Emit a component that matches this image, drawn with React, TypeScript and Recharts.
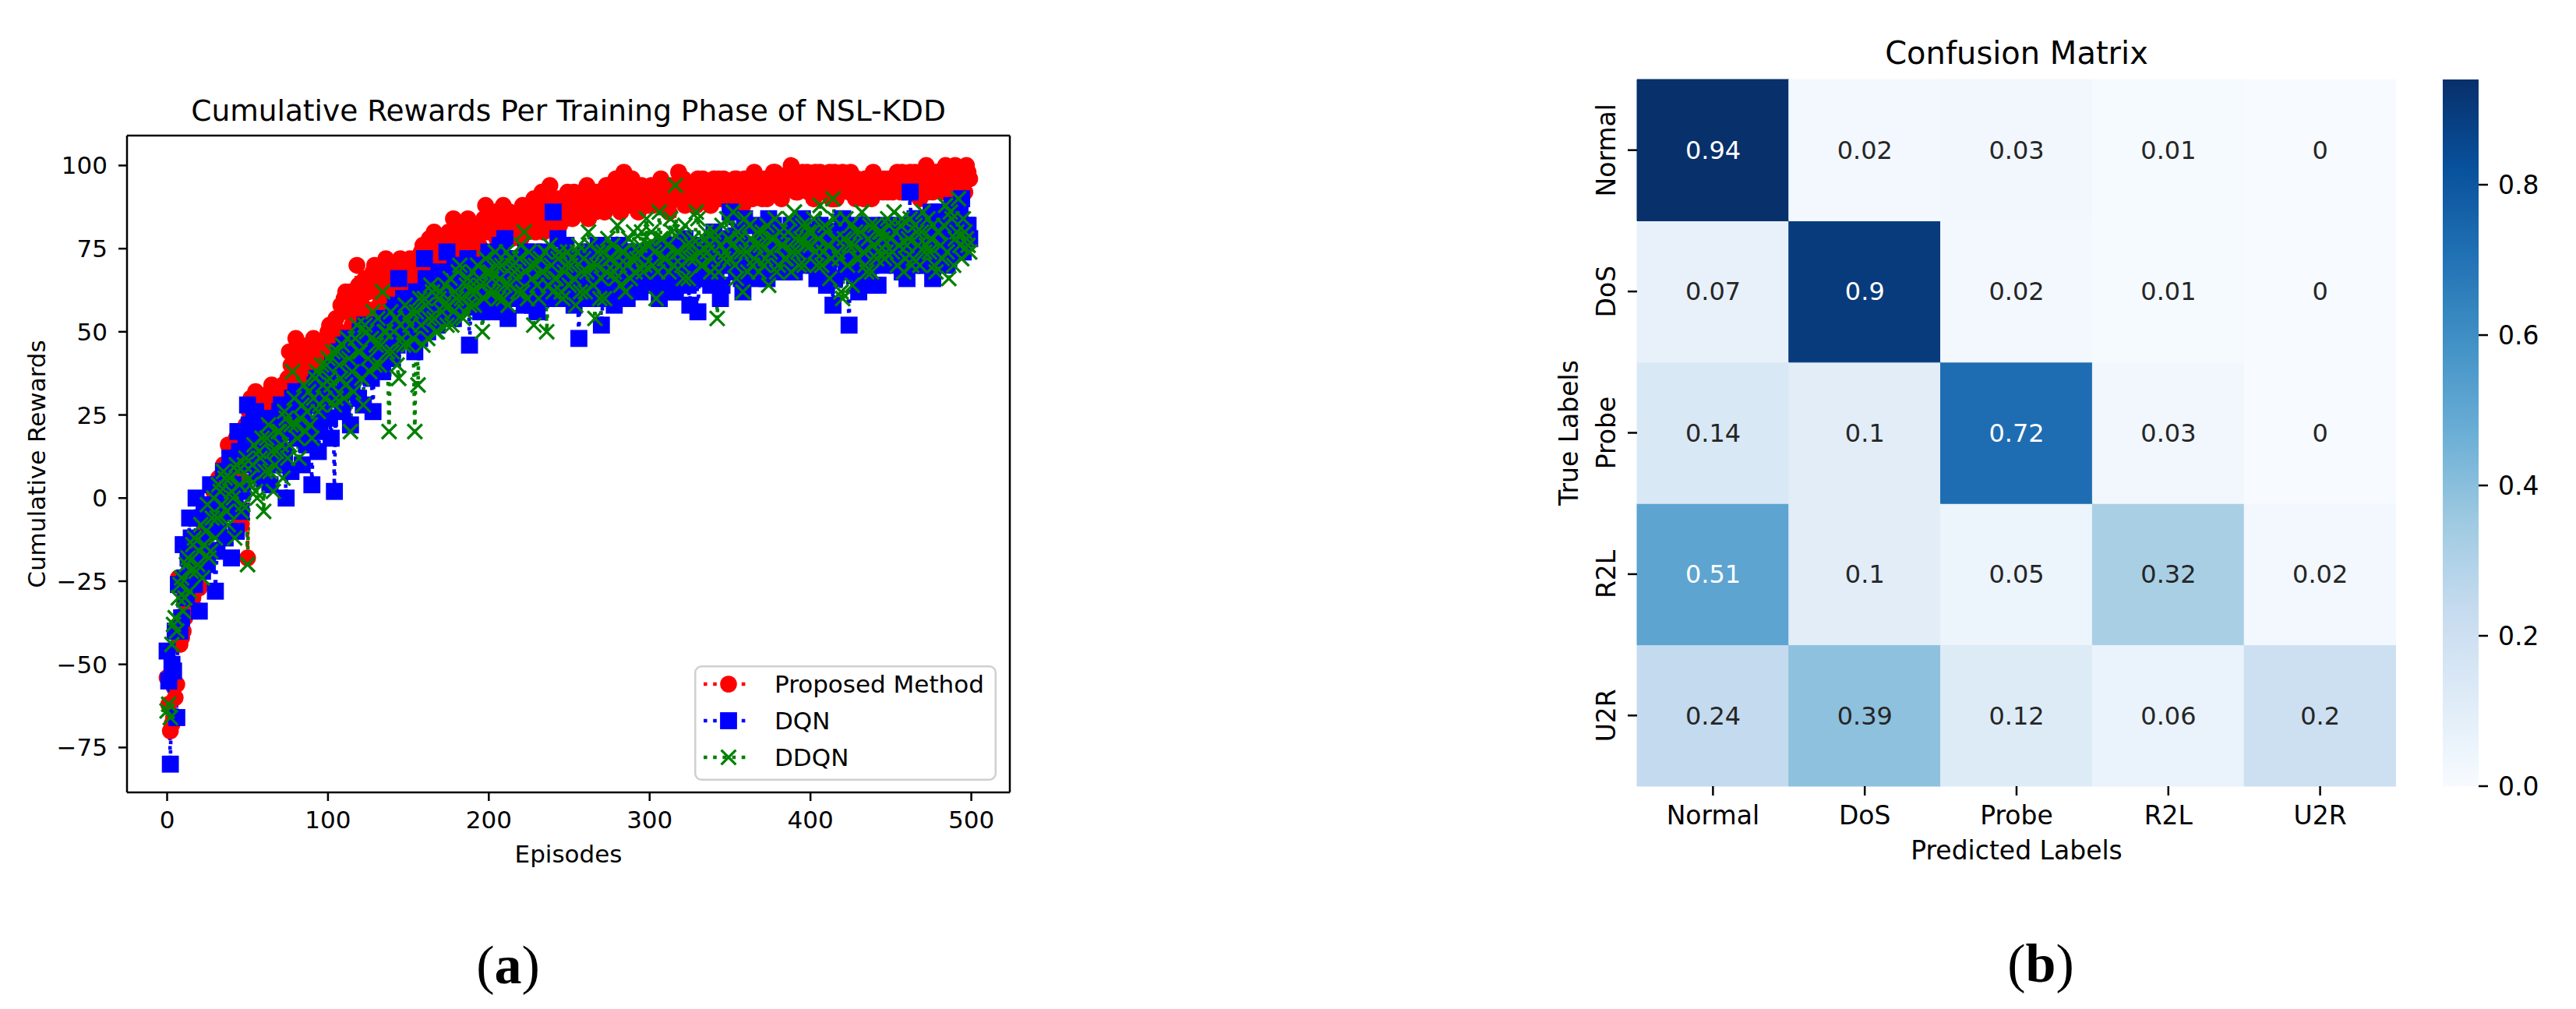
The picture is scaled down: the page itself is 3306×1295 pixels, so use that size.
import React from "react";
import { LineChart, Line, XAxis, YAxis, Legend, ReferenceLine, BarChart, Bar, Cell, LabelList } from "recharts";

// (a) cumulative rewards, even episodes (0, 2, ... 498)
const proposedEven = [
  -54, -70, -66, -56, -44, -40, -28, -24, -30, -20, -27, -12, -16, -4, 4, 0, 6, 2, 8, 16, 12, 14, 6, -8, 10,
  -18, 30, 22, 28, 18, 30, 26, 32, 24, 28, 30, 34, 26, 44, 38, 48, 40, 36, 44, 40, 46, 38, 42, 36, 44,
  50, 48, 52, 44, 58, 60, 56, 62, 54, 70, 60, 64, 56, 66, 68, 62, 58, 70, 72, 66, 64, 60, 68, 62, 70,
  70, 66, 72, 64, 74, 68, 72, 76, 80, 70, 74, 78, 70, 76, 84, 78, 74, 80, 76, 72, 78, 82, 76, 80, 88,
  84, 80, 86, 82, 76, 84, 80, 78, 84, 82, 78, 86, 80, 84, 90, 82, 86, 80, 88, 94, 84, 86, 82, 88, 84,
  86, 84, 90, 86, 92, 88, 84, 90, 86, 88, 92, 86, 94, 90, 88, 92, 86, 98, 92, 88, 94, 90, 88, 92, 90,
  92, 88, 94, 90, 88, 92, 86, 90, 94, 98, 92, 88, 94, 90, 92, 96, 90, 94, 92, 88, 96, 94, 90, 96, 92,
  94, 90, 96, 92, 88, 94, 96, 90, 92, 94, 90, 96, 92, 94, 98, 94, 90, 96, 94, 100, 98, 92, 96, 94, 98,
  96, 90, 94, 98, 92, 96, 98, 94, 90, 96, 98, 94, 92, 96, 90, 94, 92, 96, 94, 90, 96, 92, 94, 96, 92,
  96, 94, 98, 92, 96, 94, 98, 92, 96, 90, 94, 100, 96, 92, 98, 94, 96, 100, 92, 98, 100, 94, 96, 92, 98,
];
// odd episodes (1, 3, ... 499)
const proposedOdd = [
  -62, -68, -60, -24, -42, -36, -32, -18, -26, -14, -22, -8, -2, -10, 2, -6, 4, 10, 6, 14, 8, 18, 4, 12, 22,
  26, 20, 32, 24, 28, 20, 30, 34, 26, 22, 32, 28, 36, 40, 30, 42, 46, 38, 34, 42, 48, 40, 44, 38, 46,
  52, 46, 54, 50, 56, 62, 58, 52, 60, 64, 58, 66, 62, 54, 70, 64, 60, 68, 62, 70, 66, 64, 72, 66, 68,
  72, 68, 64, 70, 76, 72, 78, 74, 70, 78, 76, 72, 80, 74, 78, 82, 76, 80, 84, 78, 74, 82, 80, 84, 80,
  86, 82, 78, 84, 88, 80, 86, 82, 84, 80, 88, 82, 86, 84, 80, 88, 92, 84, 90, 86, 82, 90, 88, 84, 92,
  88, 92, 86, 90, 88, 94, 90, 86, 92, 88, 90, 94, 88, 92, 96, 90, 94, 88, 92, 96, 90, 86, 94, 92, 88,
  94, 90, 92, 96, 90, 88, 94, 92, 90, 94, 96, 92, 90, 94, 88, 92, 96, 94, 90, 92, 94, 96, 92, 90, 94,
  92, 96, 94, 90, 96, 92, 94, 98, 92, 96, 94, 90, 96, 98, 94, 92, 96, 94, 98, 96, 92, 94, 98, 96, 92,
  94, 98, 96, 92, 94, 96, 90, 98, 94, 92, 96, 94, 98, 92, 96, 94, 90, 96, 92, 98, 94, 96, 92, 94, 96,
  92, 96, 94, 98, 94, 96, 92, 98, 94, 96, 98, 92, 96, 94, 98, 96, 92, 98, 96, 94, 98, 92, 96, 100, 96,
];

const dqnEven = [
  -46, -80, -52, -66, -40, -14, -30, -6, -20, 0, -34, -22, -16, -10, -4, -28, -8, 2, -12, 6, -18, 0, 20, -4, 10,
  28, 14, 24, 8, 20, 12, 18, 4, 22, 16, 26, 10, 0, 20, 30, 32, 24, 10, 28, 20, 4, 34, 14, 26, 30,
  36, 18, 2, 40, 30, 46, 36, 22, 44, 38, 50, 28, 42, 48, 26, 44, 52, 38, 46, 54, 42, 58, 66, 50, 56,
  48, 60, 44, 54, 62, 72, 50, 58, 64, 52, 60, 56, 74, 62, 54, 66, 60, 58, 68, 46, 62, 64, 58, 70, 66,
  74, 60, 56, 70, 64, 78, 54, 68, 62, 72, 66, 58, 70, 62, 74, 56, 68, 64, 60, 72, 86, 66, 70, 62, 76,
  68, 62, 72, 48, 66, 74, 60, 70, 64, 76, 52, 68, 72, 62, 58, 70, 66, 74, 60, 68, 64, 72, 62, 70, 66,
  72, 64, 68, 60, 76, 70, 66, 74, 62, 70, 68, 78, 64, 72, 66, 56, 70, 74, 68, 64, 80, 72, 60, 76, 70,
  86, 74, 68, 80, 62, 76, 70, 82, 66, 74, 78, 70, 84, 72, 68, 76, 80, 70, 74, 82, 68, 76, 72, 80, 74,
  78, 70, 66, 82, 74, 64, 80, 58, 76, 72, 84, 70, 52, 78, 74, 62, 80, 76, 68, 82, 72, 64, 78, 74, 80,
  76, 82, 70, 74, 78, 66, 92, 80, 72, 84, 76, 70, 82, 66, 78, 86, 74, 80, 72, 88, 76, 84, 90, 78, 82,
];
const dqnOdd = [
  -55, -50, -40, -26, -36, -24, -18, -12, -26, -6, -14, -2, -20, 4, -8, -16, 0, 8, -4, 12, 4, -10, 14, 2, 18,
  22, 16, 26, 12, 6, 20, 14, 24, 10, 18, 28, 14, 22, 8, 26, 18, 32, 24, 16, 30, 22, 36, 20, 28, 34,
  24, 40, 32, 44, 26, 38, 48, 34, 42, 30, 46, 52, 40, 36, 50, 44, 38, 54, 48, 42, 56, 46, 52, 60, 50,
  56, 52, 62, 48, 58, 66, 54, 62, 56, 68, 58, 64, 60, 54, 70, 62, 58, 66, 72, 60, 64, 68, 56, 62, 70,
  66, 72, 62, 76, 58, 66, 72, 64, 70, 60, 68, 74, 64, 58, 70, 66, 62, 74, 68, 64, 70, 78, 60, 72, 66,
  72, 58, 66, 70, 62, 68, 74, 64, 70, 66, 60, 74, 66, 70, 64, 76, 68, 62, 72, 66, 74, 68, 64, 72, 70,
  66, 74, 70, 64, 72, 68, 76, 62, 74, 70, 66, 72, 58, 76, 70, 68, 74, 66, 72, 78, 68, 74, 64, 72, 78,
  70, 78, 74, 66, 84, 72, 68, 76, 70, 80, 72, 66, 76, 82, 70, 74, 78, 72, 68, 80, 74, 70, 84, 76, 72,
  74, 80, 72, 68, 78, 70, 76, 66, 72, 80, 74, 68, 76, 70, 82, 66, 74, 78, 72, 64, 80, 76, 70, 82, 74,
  80, 72, 78, 68, 82, 76, 70, 84, 74, 78, 70, 80, 86, 74, 72, 82, 78, 70, 84, 76, 80, 86, 74, 82, 78,
];

const ddqnEven = [
  -64, -66, -38, -40, -26, -34, -20, -28, -14, -22, -16, -24, -10, -18, -6, -12, 4, -2, 6, -8, 2, -12, 8, -4, 10,
  -20, 4, 16, 0, 12, -4, 18, 8, 2, 14, 20, 6, 24, 16, 38, 22, 12, 28, 20, 32, 18, 36, 26, 40, 30,
  42, 34, 28, 44, 36, 30, 48, 20, 32, 52, 44, 28, 50, 38, 56, 46, 40, 62, 50, 20, 44, 54, 36, 48, 58,
  46, 56, 20, 34, 52, 60, 48, 64, 54, 50, 62, 58, 52, 66, 56, 60, 70, 54, 64, 58, 68, 62, 66, 50, 72,
  62, 66, 74, 60, 70, 64, 58, 72, 68, 62, 76, 80, 60, 70, 52, 64, 72, 68, 50, 76, 62, 66, 74, 60, 70,
  64, 72, 58, 76, 68, 62, 80, 70, 54, 74, 66, 60, 78, 72, 68, 82, 64, 74, 70, 66, 80, 72, 76, 68, 84,
  76, 70, 60, 86, 78, 72, 68, 80, 94, 74, 70, 82, 66, 76, 72, 84, 70, 78, 74, 68, 80, 54, 76, 72, 84,
  72, 86, 66, 78, 62, 74, 82, 70, 76, 68, 80, 72, 64, 78, 84, 70, 76, 72, 80, 68, 86, 74, 78, 70, 82,
  76, 84, 70, 88, 74, 80, 66, 90, 78, 72, 60, 84, 76, 64, 80, 72, 86, 70, 78, 68, 82, 74, 80, 72, 84,
  78, 86, 70, 82, 68, 76, 84, 72, 80, 70, 86, 76, 74, 82, 68, 80, 72, 88, 66, 84, 78, 90, 72, 80, 76,
];
const ddqnOdd = [
  -62, -44, -36, -30, -24, -30, -18, -22, -12, -20, -8, -14, -2, -16, 0, -6, 2, 8, -4, 6, 0, 10, 4, -2, 12,
  6, 10, 2, 14, 18, 8, 22, 14, 10, 20, 16, 26, 12, 22, 30, 18, 24, 34, 26, 22, 30, 38, 28, 34, 40,
  36, 44, 30, 40, 46, 34, 42, 38, 48, 44, 36, 52, 42, 48, 40, 54, 46, 50, 44, 56, 50, 40, 52, 46, 54,
  52, 48, 56, 60, 46, 58, 54, 62, 50, 60, 56, 64, 58, 52, 62, 68, 60, 56, 66, 62, 58, 70, 64, 60, 68,
  68, 62, 70, 66, 60, 74, 64, 70, 66, 72, 62, 68, 74, 66, 70, 60, 68, 74, 64, 70, 66, 72, 62, 68, 74,
  70, 66, 74, 62, 72, 68, 76, 64, 70, 60, 74, 68, 72, 76, 66, 70, 74, 62, 78, 72, 68, 74, 80, 70, 76,
  80, 74, 68, 78, 72, 76, 84, 70, 74, 80, 66, 76, 72, 78, 86, 74, 70, 80, 76, 72, 78, 68, 82, 74, 78,
  76, 70, 80, 74, 84, 68, 78, 72, 80, 76, 70, 82, 74, 78, 68, 80, 76, 72, 84, 74, 78, 70, 82, 76, 80,
  80, 74, 78, 70, 82, 76, 72, 84, 74, 62, 78, 70, 82, 76, 72, 80, 74, 68, 82, 76, 72, 80, 78, 74, 82,
  74, 80, 76, 84, 72, 78, 70, 82, 76, 80, 74, 84, 78, 70, 80, 76, 82, 74, 86, 70, 80, 76, 84, 78, 74,
];

const episodeTicks = [0, 100, 200, 300, 400, 500];
const rewardTicks = [-75, -50, -25, 0, 25, 50, 75, 100];
const episodeDomain = [-24.95, 523.95];
const rewardDomain = [-88.5, 109];

// (b) confusion matrix, rows = true label, columns = predicted label
const classLabels = ["Normal", "DoS", "Probe", "R2L", "U2R"];
const rowNormal = [0.94, 0.02, 0.03, 0.01, 0];
const rowDoS = [0.07, 0.9, 0.02, 0.01, 0];
const rowProbe = [0.14, 0.1, 0.72, 0.03, 0];
const rowR2L = [0.51, 0.1, 0.05, 0.32, 0.02];
const rowU2R = [0.24, 0.39, 0.12, 0.06, 0.2];
const matrixRows = [rowNormal, rowDoS, rowProbe, rowR2L, rowU2R];
const colorbarTicks = [0, 0.2, 0.4, 0.6, 0.8];

const pick = (even: number[], odd: number[], ep: number) => (ep % 2 === 0 ? even[ep / 2] : odd[(ep - 1) / 2]);
const episodes = Array.from({ length: proposedEven.length + proposedOdd.length }, (_, i) => i);
const rewardData = episodes.map((ep) => ({
  episode: ep,
  proposed: pick(proposedEven, proposedOdd, ep),
  dqn: pick(dqnEven, dqnOdd, ep),
  ddqn: pick(ddqnEven, ddqnOdd, ep),
}));

const vmax = Math.max(...matrixRows.flat());
const heatData = classLabels.map((pred, j) => {
  const entry: Record<string, any> = { pred };
  classLabels.forEach((t, i) => {
    entry[t] = matrixRows[i][j];
    entry["cell_" + t] = 1;
  });
  return entry;
});
const rowTicks = classLabels.map((_, i) => classLabels.length - i - 0.5);
const colorbarData = [{ name: "cb", top: vmax }];

// matplotlib "Blues"
const BLUES = [
  [247, 251, 255], [222, 235, 247], [198, 219, 239], [158, 202, 225], [107, 174, 214],
  [66, 146, 198], [33, 113, 181], [8, 81, 156], [8, 48, 107],
];
function bluesRgb(t: number) {
  const p = Math.max(0, Math.min(1, t)) * 8;
  const i = Math.min(7, Math.floor(p));
  const f = p - i;
  return BLUES[i].map((c, k) => Math.round(c + (BLUES[i + 1][k] - c) * f));
}
const toHex = (rgb: number[]) => "#" + rgb.map((c) => c.toString(16).padStart(2, "0")).join("");
function textColorFor(rgb: number[]) {
  const lin = rgb.map((c) => {
    const s = c / 255;
    return s <= 0.03928 ? s / 12.92 : Math.pow((s + 0.055) / 1.055, 2.4);
  });
  const lum = 0.2126 * lin[0] + 0.7152 * lin[1] + 0.0722 * lin[2];
  return lum > 0.408 ? "#262626" : "#ffffff";
}

const RED = "#ff0000";
const BLUE = "#0000ff";
const GREEN = "#008000";
const DOTTED = "4.6 7.6";

const fmtMinus = (v: number) => (v < 0 ? "\u2212" + Math.abs(v) : String(v));

function marker(kind: string, cx: number, cy: number, key?: any) {
  if (cx == null || cy == null) return null;
  if (kind === "circle") return <circle key={key} cx={cx} cy={cy} r={10.8} fill={RED} />;
  if (kind === "square")
    return <rect key={key} x={cx - 10.9} y={cy - 10.9} width={21.8} height={21.8} fill={BLUE} />;
  const d = 9.4;
  return (
    <path
      key={key}
      d={`M${cx - d},${cy - d}L${cx + d},${cy + d}M${cx - d},${cy + d}L${cx + d},${cy - d}`}
      stroke={GREEN}
      strokeWidth={3.3}
      fill="none"
    />
  );
}

const seriesOrder = ["proposed", "dqn", "ddqn"];
const seriesMarks: Record<string, { kind: string; color: string }> = {
  proposed: { kind: "circle", color: RED },
  dqn: { kind: "square", color: BLUE },
  ddqn: { kind: "cross", color: GREEN },
};

function RewardLegend(props: any) {
  const payload = [...(props.payload || [])].sort(
    (a: any, b: any) => seriesOrder.indexOf(a.dataKey) - seriesOrder.indexOf(b.dataKey)
  );
  return (
    <svg width={388} height={148} style={{ display: "block" }}>
      <rect x={1.25} y={1.25} width={385.5} height={145.5} rx={8} fill="#ffffff" fillOpacity={0.8} stroke="#d0d0d0" strokeWidth={2.5} />
      {payload.map((entry: any, i: number) => {
        const m = seriesMarks[entry.dataKey];
        const cy = 24 + i * 47;
        return (
          <g key={entry.dataKey}>
            <line x1={12} y1={cy} x2={68} y2={cy} stroke={m.color} strokeWidth={4.6} strokeDasharray={DOTTED} />
            {marker(m.kind, 44, cy)}
            <text x={103} y={cy + 11} fontSize={31} fill="#000">
              {entry.value}
            </text>
          </g>
        );
      })}
    </svg>
  );
}

function RewardsChart() {
  return (
    <LineChart width={1350} height={1130} data={rewardData} margin={{ top: 174, right: 54, bottom: 0, left: 0 }}>
      <XAxis
        dataKey="episode"
        type="number"
        domain={episodeDomain}
        ticks={episodeTicks}
        allowDataOverflow
        height={113}
        tickSize={11}
        tickMargin={13}
        tick={{ fill: "#000", fontSize: 31 }}
        axisLine={{ stroke: "#000", strokeWidth: 2.5 }}
        tickLine={{ stroke: "#000", strokeWidth: 2.5 }}
        label={{ value: "Episodes", position: "insideBottom", offset: 23, fill: "#000", fontSize: 31 }}
      />
      <YAxis
        type="number"
        domain={rewardDomain}
        ticks={rewardTicks}
        allowDataOverflow
        width={163}
        tickSize={11}
        tickMargin={14}
        tickFormatter={fmtMinus}
        tick={{ fill: "#000", fontSize: 31 }}
        axisLine={{ stroke: "#000", strokeWidth: 2.5 }}
        tickLine={{ stroke: "#000", strokeWidth: 2.5 }}
        label={{ value: "Cumulative Rewards", angle: -90, position: "insideLeft", offset: 47, fill: "#000", fontSize: 31, style: { textAnchor: "middle" } }}
      />
      <Line
        dataKey="proposed"
        name="Proposed Method"
        type="linear"
        stroke={RED}
        strokeWidth={4.6}
        strokeDasharray={DOTTED}
        dot={(p: any) => marker("circle", p.cx, p.cy, "r" + p.index)}
        activeDot={false}
        isAnimationActive={false}
      />
      <Line
        dataKey="dqn"
        name="DQN"
        type="linear"
        stroke={BLUE}
        strokeWidth={4.6}
        strokeDasharray={DOTTED}
        dot={(p: any) => marker("square", p.cx, p.cy, "b" + p.index)}
        activeDot={false}
        isAnimationActive={false}
      />
      <Line
        dataKey="ddqn"
        name="DDQN"
        type="linear"
        stroke={GREEN}
        strokeWidth={4.6}
        strokeDasharray={DOTTED}
        dot={(p: any) => marker("cross", p.cx, p.cy, "g" + p.index)}
        activeDot={false}
        isAnimationActive={false}
      />
      {/* top and right spines of the matplotlib frame */}
      <ReferenceLine y={rewardDomain[1]} stroke="#000" strokeWidth={2.5} ifOverflow="extendDomain" />
      <ReferenceLine x={episodeDomain[1]} stroke="#000" strokeWidth={2.5} ifOverflow="extendDomain" />
      <Legend
        layout="horizontal"
        align="center"
        verticalAlign="middle"
        content={<RewardLegend />}
        wrapperStyle={{ left: 891, top: 854, width: 388, height: 148 }}
      />
    </LineChart>
  );
}

function cellLabel(trueLabel: string) {
  return (props: any) => {
    const { x, y, width, height, index } = props;
    const v = heatData[index][trueLabel];
    const rgb = bluesRgb(v / vmax);
    return (
      <text x={x + width / 2} y={y + height / 2} dy="0.35em" textAnchor="middle" fontSize={32} fill={textColorFor(rgb)}>
        {String(v)}
      </text>
    );
  };
}

function RowTick(props: any) {
  const { x, y, payload } = props;
  const name = classLabels[Math.round(classLabels.length - 0.5 - payload.value)];
  return (
    <text x={x} y={y} transform={`rotate(-90 ${x} ${y})`} textAnchor="middle" fontSize={33} fill="#000">
      {name}
    </text>
  );
}

function ConfusionChart() {
  const stackOrder = [...classLabels].reverse();
  return (
    <BarChart width={1175} height={1130} data={heatData} barCategoryGap={0} barGap={0} margin={{ top: 102, right: 0, bottom: 0, left: 0 }}>
      <XAxis
        dataKey="pred"
        type="category"
        interval={0}
        height={121}
        tickSize={12}
        tickMargin={14}
        axisLine={false}
        tick={{ fill: "#000", fontSize: 33 }}
        tickLine={{ stroke: "#000", strokeWidth: 2.5 }}
        label={{ value: "Predicted Labels", position: "insideBottom", offset: 27, fill: "#000", fontSize: 33 }}
      />
      <YAxis
        type="number"
        domain={[0, classLabels.length]}
        ticks={rowTicks}
        allowDecimals
        width={201}
        tickSize={12}
        tickMargin={16}
        axisLine={false}
        tick={<RowTick />}
        tickLine={{ stroke: "#000", strokeWidth: 2.5 }}
        label={{ value: "True Labels", angle: -90, position: "insideLeft", offset: 113, fill: "#000", fontSize: 33, style: { textAnchor: "middle" } }}
      />
      {stackOrder.map((t) => (
        <Bar key={t} dataKey={"cell_" + t} stackId="m" isAnimationActive={false}>
          {heatData.map((d, j) => {
            const fill = toHex(bluesRgb(d[t] / vmax));
            return <Cell key={j} fill={fill} stroke={fill} strokeWidth={1} />;
          })}
          <LabelList dataKey={"cell_" + t} content={cellLabel(t)} />
        </Bar>
      ))}
    </BarChart>
  );
}

function Colorbar() {
  return (
    <BarChart width={166} height={1130} data={colorbarData} barCategoryGap={0} margin={{ top: 102, right: 0, bottom: 121, left: 0 }}>
      <defs>
        <linearGradient id="bluesGradient" x1="0" y1="1" x2="0" y2="0">
          {BLUES.map((c, i) => (
            <stop key={i} offset={i / (BLUES.length - 1)} stopColor={toHex(c)} />
          ))}
        </linearGradient>
      </defs>
      <XAxis dataKey="name" hide />
      <YAxis
        orientation="right"
        type="number"
        domain={[0, vmax]}
        ticks={colorbarTicks}
        width={120}
        tickSize={12}
        tickMargin={13}
        axisLine={false}
        tickFormatter={(v: number) => v.toFixed(1)}
        tick={{ fill: "#000", fontSize: 33 }}
        tickLine={{ stroke: "#000", strokeWidth: 2.5 }}
      />
      <Bar dataKey="top" fill="url(#bluesGradient)" isAnimationActive={false} />
    </BarChart>
  );
}

export default function App() {
  return (
    <div style={{ position: "relative", width: 3306, height: 1295, background: "#fff", overflow: "hidden", fontFamily: "'DejaVu Sans', sans-serif" }}>
      <style>{"body{margin:0}"}</style>
      <svg width={3306} height={1295} style={{ position: "absolute", left: 0, top: 0 }}>
        <text x={729.5} y={155} textAnchor="middle" fontSize={37.5} fill="#000">
          Cumulative Rewards Per Training Phase of NSL-KDD
        </text>
        <text x={2588} y={82} textAnchor="middle" fontSize={40} fill="#000">
          Confusion Matrix
        </text>
        <text x={652} y={1262} textAnchor="middle" fontSize={70} fill="#000" fontFamily="'Liberation Serif', serif">
          (<tspan fontWeight="bold">a</tspan>)
        </text>
        <text x={2619} y={1260} textAnchor="middle" fontSize={70} fill="#000" fontFamily="'Liberation Serif', serif">
          (<tspan fontWeight="bold">b</tspan>)
        </text>
      </svg>
      <div style={{ position: "absolute", left: 0, top: 0 }}>
        <RewardsChart />
      </div>
      <div style={{ position: "absolute", left: 1900, top: 0 }}>
        <ConfusionChart />
      </div>
      <div style={{ position: "absolute", left: 3135, top: 0 }}>
        <Colorbar />
      </div>
    </div>
  );
}
